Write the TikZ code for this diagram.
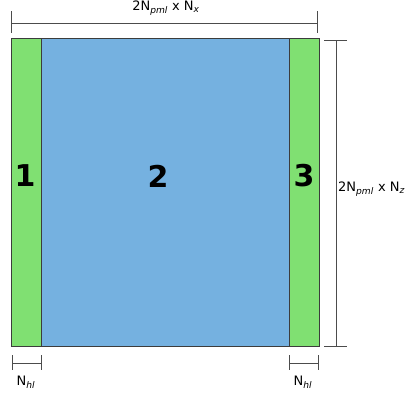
\documentclass[tikz,border=0pt]{standalone}
\usepackage{fontspec}
\setmainfont{DejaVu Sans}
\usetikzlibrary{positioning}
\definecolor{pmlgreen}{RGB}{128,224,114}
\definecolor{coreblue}{RGB}{117,177,224}
\definecolor{edgegray}{RGB}{60,60,60}
\newcommand{\lowsub}[1]{\textsubscript{\textit{#1}}}
\tikzset{
  region/.style={draw=edgegray, line width=0.7pt, inner sep=0pt, anchor=north west},
  num/.style={font=\fontsize{30}{32}\selectfont\bfseries},
  dim/.style={draw=black!70, line width=0.6pt},
  dimlabel/.style={font=\fontsize{13}{15}\selectfont, inner sep=0pt}
}
\begin{document}
\begin{tikzpicture}[x=1pt,y=-1pt]
\useasboundingbox (0,0) rectangle (406,394);
% regions
\node[region, fill=coreblue, minimum width=248pt, minimum height=308pt] (core) at (41,38) {};
\node[region, fill=pmlgreen, minimum width=30pt, minimum height=308pt] (left) at (11,38) {};
\node[region, fill=pmlgreen, minimum width=30pt, minimum height=308pt] (right) at (289,38) {};
\node[num] (n1) at (25,176) {1};
\node[num] (n2) at (158,176) {2};
\node[num] (n3) at (304,176) {3};
% top dimension
\draw[dim] (11,11) -- (11,33) (317,11) -- (317,33) (11,23) -- (317,23);
\node[dimlabel] (topl) at (166,8) {2N\lowsub{pml} x N\lowsub{x}};
% right dimension
\draw[dim] (324,40) -- (347,40) (324,346) -- (347,346) (336,40) -- (336,346);
\node[dimlabel, anchor=west] (rightl) at (338,189) {2N\lowsub{pml} x N\lowsub{z}};
% bottom dimensions
\draw[dim] (12,355) -- (12,370) (41,355) -- (41,370) (12,363) -- (41,363);
\draw[dim] (289,355) -- (289,370) (318,355) -- (318,370) (289,363) -- (318,363);
\node[dimlabel] (hl1) at (26,382) {N\lowsub{hl}};
\node[dimlabel] (hl2) at (303,382) {N\lowsub{hl}};
\end{tikzpicture}
\end{document}
